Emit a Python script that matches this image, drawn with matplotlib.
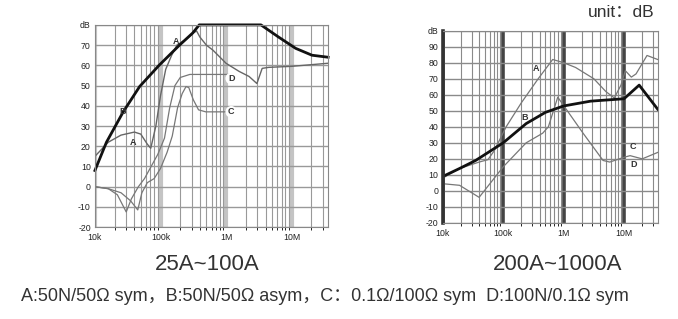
import numpy as np
import matplotlib.pyplot as plt
from matplotlib.ticker import LogLocator, NullFormatter

plt.rcParams['font.family'] = ['Liberation Sans', 'Noto Sans CJK SC', 'DejaVu Sans']

# left chart: 25A~100A  (frequency in kHz, attenuation in dB)
l_a_f = [10, 16, 25, 40, 50, 63, 71, 85, 100, 120, 148, 178, 250, 316, 355, 398, 500, 630,
         1000, 1580, 2240, 2950, 3550, 4470, 10000, 35000]
l_a_db = [15, 22, 25.5, 27, 26, 21, 19, 30, 45, 58, 65, 70, 73, 76, 77, 74, 70, 67.5,
          61, 57, 54.5, 51, 58.5, 59, 59.5, 61]
l_b_f = [10, 15, 27, 48, 95, 195, 310, 390, 3400, 6300, 11500, 20400, 36000]
l_b_db = [8, 22, 37, 49.5, 60, 70, 76, 80, 80, 74, 68.4, 65, 64]
l_c_f = [10, 16, 25, 35, 45, 52, 63, 80, 100, 126, 151, 182, 214, 245, 270, 316, 380, 490, 1000]
l_c_db = [0, -1, -3, -7, -11.5, -3, 2, 4, 9, 17, 25, 39, 46, 49.5, 49, 43, 38, 37, 37]
l_d_f = [10, 16, 22, 30, 36, 46, 57, 72, 91, 115, 138, 166, 200, 280, 1120]
l_d_db = [0, -1, -4, -12.5, -6, 0, 4, 10, 16, 24, 39, 50, 54, 55.5, 55.5]

# right chart: 200A~1000A
r_a_f = [10, 19, 40, 56, 71, 112, 200, 380, 660, 1000, 1580, 3160, 5000, 6900, 8900,
         10500, 13200, 15800, 24000, 36000]
r_a_db = [8, 14, 18, 19.5, 25, 40, 55, 70, 82, 80, 77, 70, 62, 58, 66, 75, 71, 73, 84.5, 82]
r_b_f = [10, 19, 35, 100, 240, 500, 1000, 2800, 10000, 17800, 36000]
r_b_db = [9, 14, 19, 30, 42, 49, 53, 56, 57.5, 66, 51]
r_cd_f = [10, 19, 40, 100, 240, 450, 560, 800, 2100, 4500, 5800, 10000, 12600, 20000, 36000]
r_cd_db = [4.5, 3.5, -4, 15, 30, 36, 40, 58.5, 36, 19, 18, 21, 22, 20, 24]

x_ticks = [1e4, 1e5, 1e6, 1e7]
x_labels = ['10k', '100k', '1M', '10M']


def khz(v):
    return np.array(v) * 1e3


def setup(ax, ymax, decade_color, decade_lw, grid_color):
    ax.set_xscale('log')
    ax.set_xlim(1e4, 3.6e7)
    ax.set_ylim(-20, ymax)
    ax.xaxis.set_minor_locator(LogLocator(base=10, subs=np.arange(2, 10)))
    ax.xaxis.set_minor_formatter(NullFormatter())
    ax.set_xticks(x_ticks)
    ax.set_xticklabels(x_labels)
    yt = list(range(-20, ymax + 1, 10))
    ax.set_yticks(yt)
    ax.set_yticklabels([str(v) for v in yt[:-1]] + ['dB'])
    ax.grid(True, which='minor', axis='x', color=grid_color, lw=0.8)
    ax.grid(True, which='major', axis='y', color=grid_color, lw=1.0)
    for xv in x_ticks:
        ax.axvline(xv, color=decade_color, lw=decade_lw, zorder=0.5)
    ax.tick_params(length=0, labelsize=6.3, colors='#222222')
    ax.tick_params(axis='x', pad=4)
    ax.tick_params(axis='y', pad=3)
    for s in ax.spines.values():
        s.set_color('#888888')
        s.set_linewidth(0.8)
    ax.set_axisbelow(True)


fig = plt.figure(figsize=(6.78, 3.19), dpi=100)

ax1 = fig.add_axes([0.140, 0.288, 0.344, 0.634])
setup(ax1, 80, '#c4c4c4', 3.0, '#999999')
ax1.plot(khz(l_c_f), l_c_db, color='#777777', lw=0.9)
ax1.plot(khz(l_d_f), l_d_db, color='#777777', lw=0.9)
ax1.plot(khz(l_a_f), l_a_db, color='#666666', lw=1.0)
ax1.plot(khz(l_b_f), l_b_db, color='#111111', lw=2.0, clip_on=False)
lbl = dict(fontsize=6.5, fontweight='bold', color='#333333', ha='center', va='center')
box = dict(boxstyle='circle,pad=0.15', fc='white', ec='none')
ax1.text(38e3, 22, 'A', **lbl)
ax1.text(172e3, 72, 'A', **lbl)
ax1.text(26e3, 37, 'B', **lbl)
ax1.text(1.2e6, 53.5, 'D', bbox=box, **lbl)
ax1.text(1.2e6, 37, 'C', bbox=box, **lbl)

ax2 = fig.add_axes([0.653, 0.301, 0.317, 0.603])
setup(ax2, 100, '#444444', 2.6, '#8a8a8a')
ax2.spines['left'].set_color('#333333')
ax2.spines['left'].set_linewidth(2.6)
ax2.plot(khz(r_cd_f), r_cd_db, color='#777777', lw=0.9)
ax2.plot(khz(r_a_f), r_a_db, color='#777777', lw=0.9)
ax2.plot(khz(r_b_f), r_b_db, color='#111111', lw=2.0)
ax2.text(355e3, 76.5, 'A', **lbl)
ax2.text(224e3, 46, 'B', **lbl)
ax2.text(14e6, 27.5, 'C', **lbl)
ax2.text(14.5e6, 16.7, 'D', **lbl)

fig.text(0.305, 0.172, '25A~100A', fontsize=16, color='#333333', ha='center', va='center')
fig.text(0.823, 0.172, '200A~1000A', fontsize=16, color='#333333', ha='center', va='center')
fig.text(0.966, 0.962, 'unit：dB', fontsize=12.5, color='#333333', ha='right', va='center')
fig.text(0.031, 0.070, 'A:50N/50Ω sym，B:50N/50Ω asym，C：0.1Ω/100Ω sym  D:100N/0.1Ω sym',
         fontsize=13, color='#333333', ha='left', va='center')

fig.savefig('out.png', dpi=100)
